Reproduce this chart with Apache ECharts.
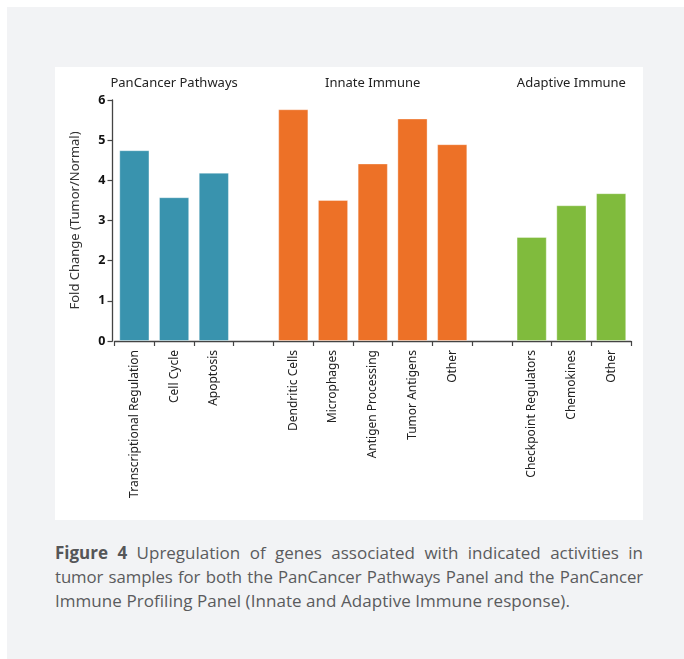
<!DOCTYPE html>
<html>
<head>
<meta charset="utf-8">
<script src="https://cdn.jsdelivr.net/npm/echarts@6/dist/echarts.min.js"></script>
<style>
  html, body { margin: 0; padding: 0; background: #ffffff; width: 684px; height: 659px; overflow: hidden; }
  #panel { position: absolute; left: 7px; top: 7px; width: 677px; height: 652px; background: #f2f3f5; }
  #chart { position: absolute; left: 55px; top: 67px; width: 588px; height: 453px; background: #ffffff; }
  #caption { position: absolute; left: 55px; top: 541px; width: 588px; font-family: "Open Sans", sans-serif;
             font-size: 17px; line-height: 24px; color: #5a5b5d; }
  #caption .ln { white-space: nowrap; text-align: justify; text-align-last: justify; }
  #caption .tight { font-size: 16.8px; letter-spacing: -0.1px; }
  #caption .last { white-space: nowrap; text-align: left; letter-spacing: 0.05px; }
  #caption b { color: #555658; }
</style>
</head>
<body>
<div id="panel"></div>
<div id="chart"></div>
<div id="caption">
  <div class="ln"><b>Figure 4</b> Upregulation of genes associated with indicated activities in</div>
  <div class="ln tight">tumor samples for both the PanCancer Pathways Panel and the PanCancer</div>
  <div class="last">Immune Profiling Panel (Innate and Adaptive Immune response).</div>
</div>
<script>
// ---- data ----
const groupNames = ['PanCancer Pathways', 'Innate Immune', 'Adaptive Immune'];
const pathwaysCategories = ['Transcriptional Regulation', 'Cell Cycle', 'Apoptosis'];
const pathwaysValues = [4.75, 3.58, 4.19];
const innateCategories = ['Dendritic Cells', 'Microphages', 'Antigen Processing', 'Tumor Antigens', 'Other'];
const innateValues = [5.77, 3.51, 4.42, 5.54, 4.90];
const adaptiveCategories = ['Checkpoint Regulators', 'Chemokines', 'Other'];
const adaptiveValues = [2.59, 3.38, 3.68];
const yTicks = [0, 1, 2, 3, 4, 5, 6];

// ---- styles ----
const groupColors = ['#3993ae', '#ed7127', '#80bb3d'];
const FONT = '"Noto Sans", sans-serif';

// build one category axis with blank spacers between groups
const groupCats = [pathwaysCategories, innateCategories, adaptiveCategories];
const groupVals = [pathwaysValues, innateValues, adaptiveValues];
const categories = [];
const barData = [];
const groupIndexRanges = [];
groupCats.forEach((cats, g) => {
  if (g > 0) { categories.push(''); barData.push(null); }
  const start = categories.length;
  cats.forEach((c, i) => {
    categories.push(c);
    barData.push({ value: groupVals[g][i], itemStyle: { color: groupColors[g] } });
  });
  groupIndexRanges.push([start, categories.length - 1]);
});

const chart = echarts.init(document.getElementById('chart'), null, { renderer: 'canvas' });
const option = {
  animation: false,
  backgroundColor: '#ffffff',
  grid: { left: 59.5, right: 12, top: 33, bottom: 179, containLabel: false },
  xAxis: {
    type: 'category',
    data: categories,
    axisLine: { lineStyle: { color: '#444', width: 1.3 } },
    axisTick: { show: true, length: 5, interval: 0, lineStyle: { color: '#444', width: 1.2 } },
    axisLabel: { interval: 0, rotate: 90, margin: 9, fontFamily: FONT, fontSize: 12, color: '#222' },
    splitLine: { show: false }
  },
  yAxis: {
    type: 'value',
    min: yTicks[0],
    max: yTicks[yTicks.length - 1],
    interval: 1,
    offset: 2,
    name: 'Fold Change (Tumor/Normal)',
    nameLocation: 'middle',
    nameGap: 31,
    nameTextStyle: { fontFamily: FONT, fontSize: 13, color: '#333' },
    axisLine: { show: true, lineStyle: { color: '#444', width: 1.3 } },
    axisTick: { show: true, length: 5, lineStyle: { color: '#444', width: 1.2 } },
    axisLabel: { fontFamily: FONT, fontSize: 12.5, fontWeight: 'bold', color: '#111', margin: 7 },
    splitLine: { show: false }
  },
  series: [{
    type: 'bar',
    data: barData,
    barCategoryGap: '24%',
    itemStyle: { borderColor: 'rgba(255,255,255,0.35)', borderWidth: 1 }
  }]
};
chart.setOption(option);

// group titles centered over their categories
const titleGraphics = groupNames.map((name, g) => {
  const [a, b] = groupIndexRanges[g];
  const xa = chart.convertToPixel({ xAxisIndex: 0 }, a);
  const xb = chart.convertToPixel({ xAxisIndex: 0 }, b);
  return {
    type: 'text',
    x: (xa + xb) / 2,
    y: 16,
    style: { text: name, fontFamily: FONT, fontSize: 13, fill: '#222', align: 'center', verticalAlign: 'middle' }
  };
});
chart.setOption({ graphic: titleGraphics });
</script>
</body>
</html>
